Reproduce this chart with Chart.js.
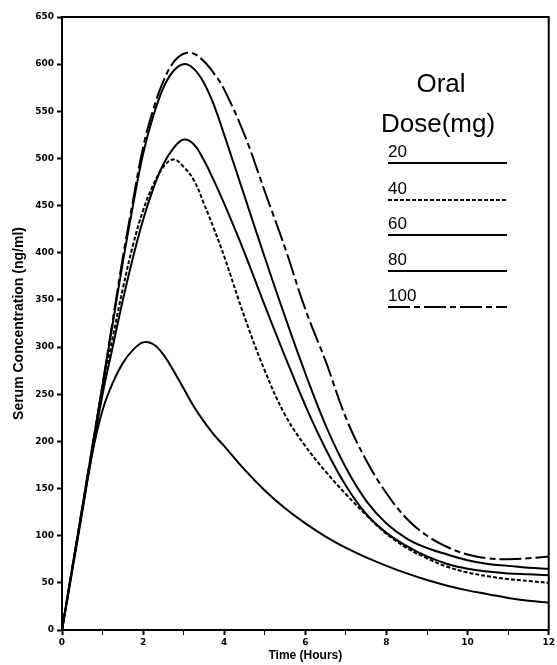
<!DOCTYPE html>
<html>
<head>
<meta charset="utf-8">
<script src="https://cdn.jsdelivr.net/npm/chart.js@4/dist/chart.umd.min.js"></script>
<style>
  html, body { margin: 0; padding: 0; background: #fff; }
  #wrap { position: relative; width: 557px; height: 665px; }
</style>
</head>
<body>
<div id="wrap"><canvas id="chart" width="557" height="665"></canvas></div>
<script>
// time points (hours)
var hours = [0, 0.25, 0.5, 0.75, 1, 1.25, 1.5, 1.75, 2, 2.25, 2.5, 2.75, 3, 3.25, 3.5, 3.75, 4,
             4.5, 5, 5.5, 6, 6.5, 7, 7.5, 8, 8.5, 9, 9.5, 10, 10.5, 11, 11.5, 12];

// serum concentration (ng/ml), one list per oral dose
var dose20  = [0, 62, 125, 188, 233, 262, 283, 297, 305, 303, 292, 275, 256, 237, 221, 207, 195,
               170, 148, 129, 113, 99, 87, 77, 68, 60, 53, 47, 42, 38, 34, 31, 29];
var dose40  = [0, 65, 128, 192, 255, 310, 362, 408, 445, 472, 491, 499, 491, 477, 452, 425, 396,
               332, 275, 228, 195, 168, 144, 122, 102, 87, 76, 67, 61, 57, 54, 52, 50];
var dose60  = [0, 65, 128, 190, 250, 300, 350, 395, 435, 468, 494, 511, 520, 515, 498, 476, 452,
               400, 344, 290, 238, 192, 153, 123, 103, 89, 78, 70, 65, 62, 60, 59, 58];
var dose80  = [0, 65, 130, 195, 260, 325, 390, 450, 505, 545, 575, 593, 600, 595, 580, 556, 525,
               460, 395, 332, 272, 217, 172, 137, 113, 97, 87, 80, 74, 70, 68, 66, 65];
var dose100 = [0, 65, 130, 195, 260, 328, 395, 455, 512, 552, 582, 602, 611, 611, 603, 590, 573,
               525, 465, 405, 340, 285, 225, 180, 145, 118, 100, 88, 80, 76, 75, 76, 78];

var doseLabels = ['20', '40', '60', '80', '100'];
var doseSeries = [dose20, dose40, dose60, dose80, dose100];
var doseDashes = [[], [4, 2], [], [], [22, 4, 6, 4]];

function toPoints(values) {
    return values.map(function (v, i) { return { x: hours[i], y: v }; });
}

var datasets = doseSeries.map(function (series, i) {
    return {
        label: doseLabels[i],
        data: toPoints(series),
        borderColor: '#000',
        borderWidth: 2,
        borderDash: doseDashes[i],
        pointRadius: 0,
        fill: false,
        tension: 0.4
    };
});

// box around plot + hand drawn legend
var framePlugin = {
    id: 'frame',
    afterDraw: function (chart) {
        var ctx = chart.ctx;
        var a = chart.chartArea;
        ctx.save();
        ctx.strokeStyle = '#000';
        ctx.lineWidth = 2;
        ctx.strokeRect(a.left, a.top, a.right - a.left, a.bottom - a.top);

        ctx.fillStyle = '#000';
        ctx.textAlign = 'center';
        ctx.textBaseline = 'alphabetic';
        ctx.font = '26px "Liberation Sans", Arial, sans-serif';
        ctx.fillText('Oral', 441, 92);
        ctx.fillText('Dose(mg)', 438, 132);

        ctx.textAlign = 'left';
        ctx.font = '17px "Liberation Sans", Arial, sans-serif';
        var rows = [163, 200, 235, 271, 307];
        for (var i = 0; i < doseLabels.length; i++) {
            ctx.fillText(doseLabels[i], 388, rows[i] - 6);
            ctx.beginPath();
            ctx.setLineDash(doseDashes[i]);
            ctx.lineWidth = 2;
            ctx.moveTo(388, rows[i]);
            ctx.lineTo(507, rows[i]);
            ctx.stroke();
        }
        ctx.restore();
    }
};

var tickFont = { family: '"DejaVu Sans", sans-serif', size: 9, weight: 'bold' };

new Chart(document.getElementById('chart').getContext('2d'), {
    type: 'line',
    data: { datasets: datasets },
    options: {
        responsive: false,
        animation: false,
        layout: { padding: { top: 17, right: 5, left: 0, bottom: 0 } },
        plugins: {
            legend: { display: false },
            tooltip: { enabled: false }
        },
        scales: {
            x: {
                type: 'linear',
                min: 0,
                max: 12,
                afterFit: function (scale) { scale.height = 35; },
                ticks: {
                    stepSize: 1,
                    color: '#000',
                    font: tickFont,
                    padding: 2,
                    maxRotation: 0,
                    callback: function (value) { return value % 2 === 0 ? value : ''; }
                },
                grid: {
                    drawOnChartArea: false,
                    drawTicks: true,
                    tickLength: 5,
                    tickColor: '#000',
                    tickWidth: function (c) { return c.tick && c.tick.value % 2 === 0 ? 2 : 1; }
                },
                border: { display: true, color: '#000', width: 2 },
                title: {
                    display: true,
                    text: 'Time (Hours)',
                    color: '#000',
                    font: { family: '"Liberation Sans", Arial, sans-serif', size: 12, weight: 'bold' },
                    padding: { top: 0, bottom: 2 }
                }
            },
            y: {
                min: 0,
                max: 650,
                afterFit: function (scale) { scale.width = 62; },
                ticks: {
                    stepSize: 50,
                    color: '#000',
                    font: tickFont,
                    padding: 3
                },
                grid: {
                    drawOnChartArea: false,
                    drawTicks: true,
                    tickLength: 5,
                    tickColor: '#000',
                    tickWidth: 2
                },
                border: { display: true, color: '#000', width: 2 },
                title: {
                    display: true,
                    text: 'Serum Concentration (ng/ml)',
                    color: '#000',
                    font: { family: '"Liberation Sans", Arial, sans-serif', size: 14, weight: 'bold' },
                    padding: { top: 11, bottom: 0 }
                }
            }
        }
    },
    plugins: [framePlugin]
});
</script>
</body>
</html>
